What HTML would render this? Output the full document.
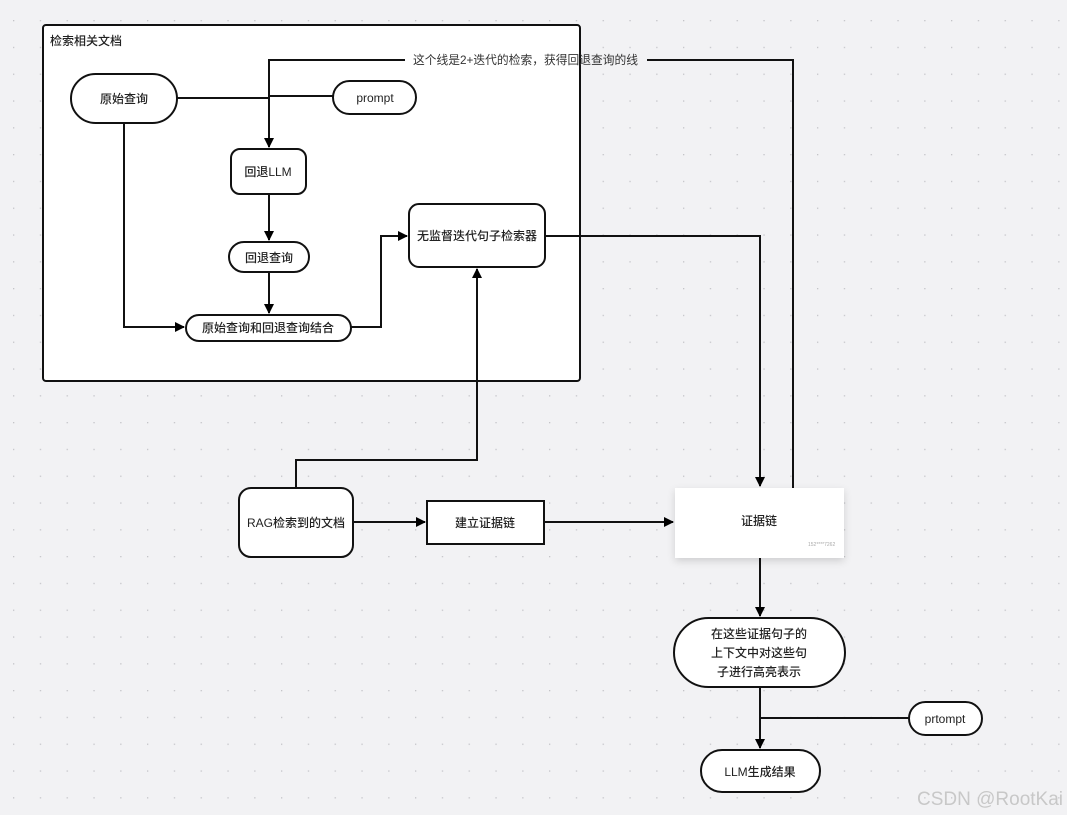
<!DOCTYPE html>
<html><head><meta charset="utf-8"><style>
html,body{margin:0;padding:0;background:#f2f2f4;}
svg{display:block;}
text{font-family:"Liberation Sans","Noto Sans CJK SC",sans-serif;font-size:12px;fill:#222;font-weight:500;}
</style></head><body>
<svg width="1067" height="815" viewBox="0 0 1067 815" xmlns="http://www.w3.org/2000/svg">
<defs>
<pattern id="g" x="13" y="20" width="26.8" height="26.8" patternUnits="userSpaceOnUse">
<rect x="0" y="0" width="1.3" height="1.3" fill="#c4c4c8"/></pattern>
<marker id="a" markerWidth="10" markerHeight="10" refX="9" refY="5" orient="auto" markerUnits="userSpaceOnUse">
<path d="M0,0 L10,5 L0,10 z" fill="#000"/></marker>
<filter id="sh" x="-20%" y="-20%" width="140%" height="160%"><feDropShadow dx="0" dy="3" stdDeviation="4" flood-color="#000" flood-opacity="0.15"/></filter>
</defs>
<rect width="1067" height="815" fill="#f2f2f4"/>
<rect width="1067" height="815" fill="url(#g)"/>
<rect x="43" y="25" width="537" height="356" rx="3" fill="#fff" stroke="#111" stroke-width="2"/>
<text x="50" y="45">检索相关文档</text>
<g fill="none" stroke="#111" stroke-width="2">
<path d="M405,60 L269,60 L269,147" marker-end="url(#a)"/>
<path d="M647,60 L793,60 L793,488"/>
<path d="M177,98 L269,98 M269,96 L333,96"/>
<path d="M124,123 L124,327 L184,327" marker-end="url(#a)"/>
<path d="M269,194 L269,240" marker-end="url(#a)"/>
<path d="M269,272 L269,313" marker-end="url(#a)"/>
<path d="M351,327 L381,327 L381,236 L407,236" marker-end="url(#a)"/>
<path d="M545,236 L760,236 L760,486" marker-end="url(#a)"/>
<path d="M296,488 L296,460 L477,460 L477,269" marker-end="url(#a)"/>
<path d="M353,522 L425,522" marker-end="url(#a)"/>
<path d="M544,522 L673,522" marker-end="url(#a)"/>
<path d="M760,558 L760,616" marker-end="url(#a)"/>
<path d="M760,687 L760,748" marker-end="url(#a)"/>
<path d="M909,718 L761,718"/>
</g>
<text x="413" y="64" textLength="225" lengthAdjust="spacingAndGlyphs" style="fill:#333;font-weight:400">这个线是2+迭代的检索，获得回退查询的线</text>
<g fill="#fff" stroke="#111" stroke-width="2">
<rect x="71" y="74" width="106" height="49" rx="24.5"/>
<rect x="333" y="81" width="83" height="33" rx="16.5"/>
<rect x="231" y="149" width="75" height="45" rx="9"/>
<rect x="229" y="242" width="80" height="30" rx="15"/>
<rect x="186" y="315" width="165" height="26" rx="13"/>
<rect x="409" y="204" width="136" height="63" rx="10"/>
<rect x="239" y="488" width="114" height="69" rx="12"/>
<rect x="427" y="501" width="117" height="43"/>
<rect x="674" y="618" width="171" height="69" rx="34.5"/>
<rect x="909" y="702" width="73" height="33" rx="16.5"/>
<rect x="701" y="750" width="119" height="42" rx="21"/>
</g>
<rect x="675" y="488" width="169" height="70" fill="#fff" filter="url(#sh)"/>
<g text-anchor="middle">
<text x="124" y="103">原始查询</text>
<text x="375" y="102">prompt</text>
<text x="268" y="176">回退LLM</text>
<text x="269" y="262">回退查询</text>
<text x="268" y="332">原始查询和回退查询结合</text>
<text x="477" y="240">无监督迭代句子检索器</text>
<text x="296" y="527">RAG检索到的文档</text>
<text x="485" y="527">建立证据链</text>
<text x="759" y="525">证据链</text>
<text x="759" y="638">在这些证据句子的</text>
<text x="759" y="657">上下文中对这些句</text>
<text x="759" y="676">子进行高亮表示</text>
<text x="945" y="723">prtompt</text>
<text x="760" y="776">LLM生成结果</text>
</g>
<text x="808" y="546" style="font-size:5px;fill:#aaa">152****7262</text>
<text x="917" y="805" style="font-size:19px;fill:#c8c8c8;font-weight:400">CSDN @RootKai</text>
</svg>
</body></html>
